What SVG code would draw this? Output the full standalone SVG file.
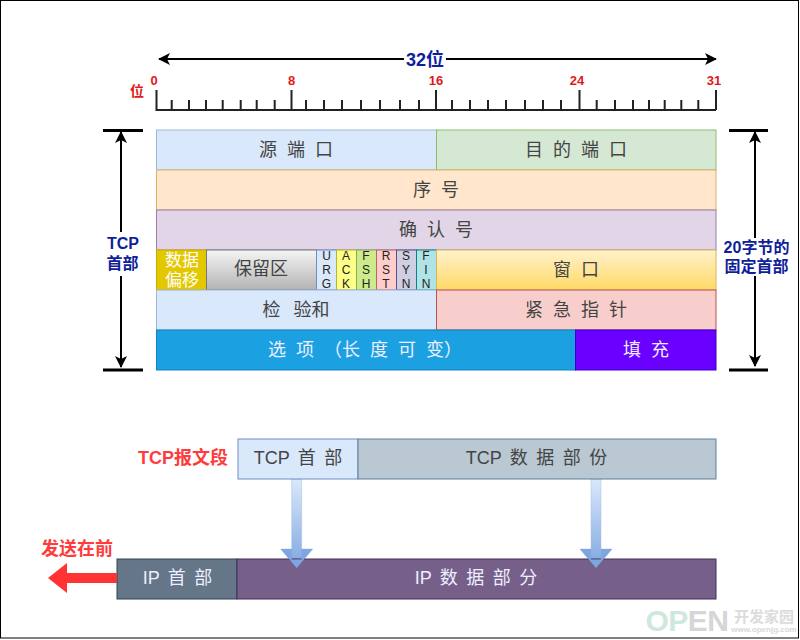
<svg xmlns="http://www.w3.org/2000/svg" width="800" height="640" viewBox="0 0 800 640">
<style>
text{font-family:"Liberation Sans","Noto Sans CJK SC",sans-serif;text-anchor:middle}
.l{font-size:18px;fill:#444;word-spacing:5px}
.w{font-size:18px;fill:#eef;word-spacing:5px}
.s{word-spacing:3.500px}
.f{font-size:12px;fill:#222}
.r{font-size:13px;font-weight:bold;fill:#e01818}
.b{font-size:16px;font-weight:bold;fill:#0f1f9c}
.rb{font-size:18px;font-weight:bold;fill:#ff3b3b}
.t{stroke:#222;stroke-width:2;fill:none}
.a{stroke:#000;stroke-width:2;fill:none}
.bar{stroke:#000;stroke-width:3;fill:none}
</style>
<defs>
<linearGradient id="gy" x1="0" y1="0" x2="0" y2="1"><stop offset="0" stop-color="#fff2cc"/><stop offset="1" stop-color="#ffd966"/></linearGradient>
<linearGradient id="gg" x1="0" y1="0" x2="0" y2="1"><stop offset="0" stop-color="#f5f5f5"/><stop offset="1" stop-color="#b3b3b3"/></linearGradient>
<linearGradient id="gb" x1="0" y1="0" x2="0" y2="1"><stop offset="0" stop-color="#dae8fc"/><stop offset="1" stop-color="#7ea6e0"/></linearGradient>
<marker id="ah" viewBox="0 0 12 12" refX="11" refY="6" markerWidth="12" markerHeight="12" markerUnits="userSpaceOnUse" orient="auto"><path d="M0 0L12 6L0 12L3 6Z" fill="#000"/></marker>
</defs>
<rect width="800" height="640" fill="#fff"/>
<rect x="0.500" y="0.500" width="798" height="637.500" fill="none" stroke="#000"/>

<g id="connectors">
<path class="a" d="M404 59H159" marker-end="url(#ah)"/>
<path class="a" d="M446 59H716" marker-end="url(#ah)"/>
<path class="t" d="M156.500 90V110H716M716 90V110"/>
<path class="t" d="M171.700 100V110M189 100V110M206 100V110M222.700 100V110M240.700 100V110M256.700 100V110M274.700 100V110M306 100V110M324 100V110M342 100V110M361 100V110M380 100V110M400 100V110M419 100V110M452 100V110M470 100V110M488 100V110M506 100V110M525 100V110M543 100V110M561 100V110M596.700 100V110M615 100V110M633 100V110M649 100V110M664.700 100V110M681.300 100V110M698.300 100V110"/>
<path class="t" d="M291.500 90V110M436 90V110M579.500 90V110"/>
<path class="bar" d="M103 130.500H143M103 370H143M729 130.500H768M729 370H768"/>
<path class="a" d="M121 232V132" marker-end="url(#ah)"/>
<path class="a" d="M121 276V367" marker-end="url(#ah)"/>
<path class="a" d="M755 238V132" marker-end="url(#ah)"/>
<path class="a" d="M755 276V366" marker-end="url(#ah)"/>
</g>
<g id="scale-labels">
<text class="b" x="425" y="66" style="font-size:18px">32位</text>
<text class="r" x="154" y="85">0</text><text class="r" x="291.500" y="85">8</text><text class="r" x="436" y="85">16</text><text class="r" x="577" y="85">24</text><text class="r" x="714" y="85">31</text>
<text class="r" x="137" y="96" style="font-size:14px">位</text>
<text class="b" x="123" y="249">TCP</text><text class="b" x="122.500" y="269">首部</text>
<text class="b" x="756.500" y="253">20字节的</text><text class="b" x="756.500" y="272">固定首部</text>
</g>

<g id="src"><rect x="156.500" y="130" width="280" height="40" fill="#dae8fc" stroke="#9eb8d8"/><text class="l" x="296" y="156">源 端 口</text></g>
<g id="dst"><rect x="436.500" y="130" width="279.500" height="40" fill="#d5e8d4" stroke="#8fbc6a"/><text class="l" x="576" y="156">目 的 端 口</text></g>
<g id="seq"><rect x="156.500" y="170" width="559.500" height="40" fill="#ffe6cc" stroke="#d9b36c"/><text class="l" x="436" y="196">序 号</text></g>
<g id="ack"><rect x="156.500" y="210" width="559.500" height="40" fill="#e1d5e7" stroke="#9a7fa8"/><text class="l" x="436" y="236">确 认 号</text></g>
<g id="offset"><rect x="156.500" y="250" width="50" height="40" fill="#e3c800" stroke="#c8ac00"/><text x="182" y="266" style="font-size:17px;fill:#fff">数据</text><text x="182" y="286" style="font-size:17px;fill:#fff">偏移</text></g>
<g id="reserved"><rect x="206.500" y="250" width="110" height="40" fill="url(#gg)" stroke="#777"/><text class="l" x="261" y="275">保留区</text></g>
<g id="urg"><rect x="316.500" y="250" width="20" height="40" fill="#dae8fc" stroke="#6c8ebf"/><text class="f" x="326.500" y="260">U</text><text class="f" x="326.500" y="274">R</text><text class="f" x="326.500" y="288">G</text></g>
<g id="ackf"><rect x="336.500" y="250" width="20" height="40" fill="#ffff88" stroke="#b8b040"/><text class="f" x="346" y="260">A</text><text class="f" x="346" y="274">C</text><text class="f" x="346" y="288">K</text></g>
<g id="psh"><rect x="356.500" y="250" width="20" height="40" fill="#cdeb8b" stroke="#8aa860"/><text class="f" x="366" y="260">F</text><text class="f" x="366" y="274">S</text><text class="f" x="366" y="288">H</text></g>
<g id="rst"><rect x="376.500" y="250" width="20" height="40" fill="#ffcccc" stroke="#b06a6a"/><text class="f" x="386" y="260">R</text><text class="f" x="386" y="274">S</text><text class="f" x="386" y="288">T</text></g>
<g id="syn"><rect x="396.500" y="250" width="20" height="40" fill="#d0cee2" stroke="#56517e"/><text class="f" x="406" y="260">S</text><text class="f" x="406" y="274">Y</text><text class="f" x="406" y="288">N</text></g>
<g id="fin"><rect x="416.500" y="250" width="20" height="40" fill="#b0e3e6" stroke="#0e8088"/><text class="f" x="426" y="260">F</text><text class="f" x="426" y="274">I</text><text class="f" x="426" y="288">N</text></g>
<g id="win"><rect x="436.500" y="250" width="279.500" height="40" fill="url(#gy)" stroke="#d6b656"/><text class="l" x="576" y="276">窗 口</text></g>
<g id="chk"><rect x="156.500" y="290" width="280" height="40" fill="#dae8fc" stroke="#9eb8d8"/><text class="l" x="296" y="316" style="word-spacing:8px">检 验和</text></g>
<g id="urgp"><rect x="436.500" y="290" width="279.500" height="40" fill="#f8cecc" stroke="#b85450"/><text class="l" x="576" y="316">紧 急 指 针</text></g>
<g id="opt"><rect x="156.500" y="330" width="419" height="40" fill="#1ba1e2" stroke="#1582bb"/><text class="w" x="365" y="356">选 项 （长 度 可 变）</text></g>
<g id="pad"><rect x="575.500" y="330" width="140.500" height="40" fill="#6a00ff" stroke="#3700cc"/><text class="w" x="646" y="356">填 充</text></g>

<g id="tcp-label"><text class="rb" x="183" y="464">TCP报文段</text></g>
<g id="arrow1"><path d="M291.700 479H301.700V549H312.700L296.700 568L280.700 549H291.700Z" fill="url(#gb)" stroke="#a8c0e0" stroke-width="0.500"/></g>
<g id="arrow2"><path d="M591 479H601V549H612L596 568L580 549H591Z" fill="url(#gb)" stroke="#a8c0e0" stroke-width="0.500"/></g>
<g id="tcp-head"><rect x="238" y="439" width="120" height="40" fill="#dae8fc" stroke="#6c8ebf"/><text class="l s" x="298" y="464">TCP 首 部</text></g>
<g id="tcp-data"><rect x="358" y="439" width="358" height="40" fill="#bac8d3" stroke="#5d7f99"/><text class="l s" x="536.500" y="464">TCP 数 据 部 份</text></g>
<g id="ip-head"><rect x="117" y="559" width="120" height="40" fill="#647687" stroke="#314354"/><text class="w s" x="177.500" y="584">IP 首 部</text></g>
<g id="ip-data"><rect x="237" y="559" width="479" height="40" fill="#76608a" stroke="#432d57"/><text class="w s" x="476" y="584">IP 数 据 部 分</text></g>
<path d="M291.700 559.500H301.700V549H312.700L296.700 568L280.700 549H291.700Z" fill="#7ea6e0"/>
<path d="M591 559.500H601V549H612L596 568L580 549H591Z" fill="#7ea6e0"/>
<g id="send"><path d="M117 573H67V563L48 578L67 593V583H117Z" fill="#ff3333"/><text class="rb" x="77" y="555">发送在前</text></g>

<g id="watermark">
<text x="687" y="631" style="font-size:30px;font-weight:bold;fill:#d6d6d6;letter-spacing:-0.500px"><tspan fill="#cfe8dc">OP</tspan>EN</text>
<text x="764" y="622" style="font-size:15px;font-weight:bold;fill:#dcdcdc">开发家园</text>
<text x="764" y="632" style="font-size:8px;font-weight:bold;fill:#d8d8d8">www.openjg.com</text>
</g>
</svg>
